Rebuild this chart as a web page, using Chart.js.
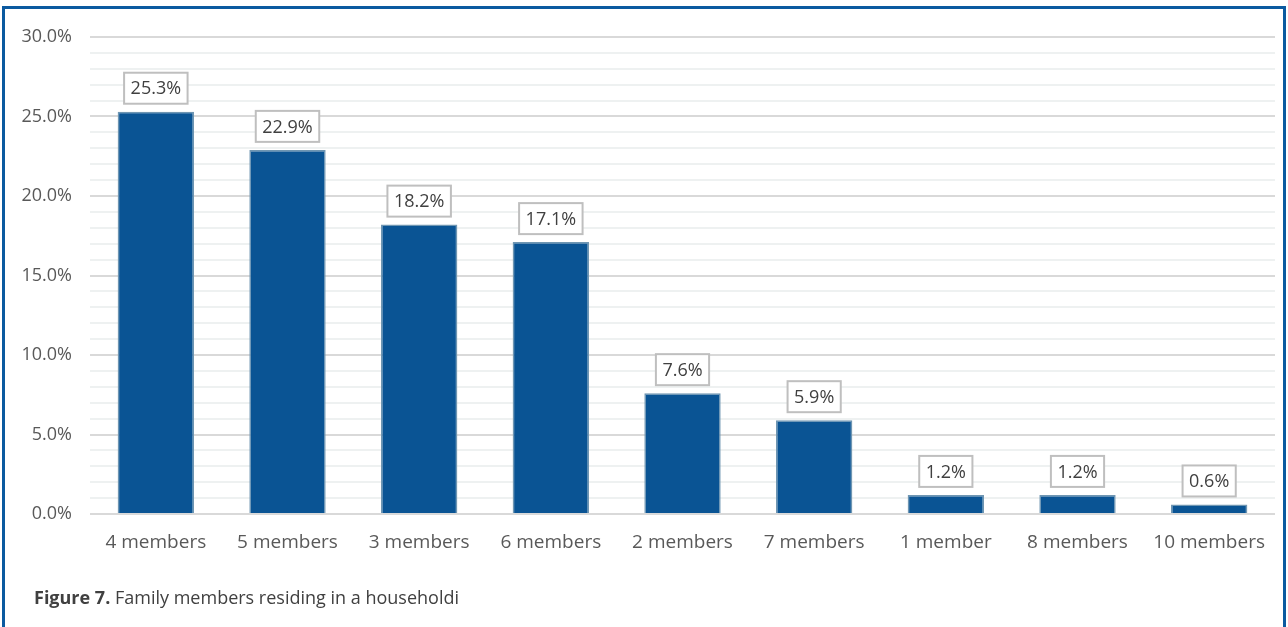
<!DOCTYPE html>
<html>
<head>
<meta charset="utf-8">
<script src="https://cdn.jsdelivr.net/npm/chart.js@4.4.1/dist/chart.umd.min.js"></script>
<style>
  html, body { margin: 0; padding: 0; background: #fff; overflow: hidden; }
  #frame {
    position: absolute; left: 2px; top: 6px;
    width: 1278px; height: 700px;
    border: 3px solid #0b5aa0;
  }
  #wrap { position: absolute; left: 0; top: 0; width: 1288px; height: 627px; }
  #caption {
    position: absolute; left: 34px; top: 585px;
    font-family: "Open Sans", sans-serif; font-size: 18px; color: #404040;
  }
  #caption b { font-weight: 700; }
</style>
</head>
<body>
<div id="frame"></div>
<div id="wrap"><canvas id="familyChart" width="1288" height="627"></canvas></div>
<div id="caption"><b>Figure 7.</b> Family members residing in a householdi</div>

<script>
// ===============================
// DATA
// ===============================
const categories = ["4 members", "5 members", "3 members", "6 members", "2 members", "7 members", "1 member", "8 members", "10 members"];
const shares = [25.3, 22.9, 18.2, 17.1, 7.6, 5.9, 1.2, 1.2, 0.6];
const yMax = 30;
const yMajorStep = 5;

const font = "'Open Sans', sans-serif";

// boxed value labels above each bar
const valueBoxes = {
  id: "valueBoxes",
  afterDatasetsDraw(chart) {
    const ctx = chart.ctx;
    const meta = chart.getDatasetMeta(0);
    ctx.save();
    ctx.font = "18px " + font;
    ctx.textAlign = "center";
    ctx.textBaseline = "middle";
    meta.data.forEach((bar, i) => {
      const text = shares[i].toFixed(1) + "%";
      const w = ctx.measureText(text).width + 13;
      const h = 31;
      const x = bar.x - w / 2;
      const y = bar.y - 8 - h;
      ctx.fillStyle = "#ffffff";
      ctx.fillRect(x, y, w, h);
      ctx.strokeStyle = "#bfbfbf";
      ctx.lineWidth = 2;
      ctx.strokeRect(x, y, w, h);
      ctx.fillStyle = "#404040";
      ctx.fillText(text, bar.x, y + h / 2 + 1);
    });
    ctx.restore();
  }
};

new Chart(document.getElementById("familyChart"), {
  type: "bar",
  data: {
    labels: categories,
    datasets: [{
      data: shares,
      backgroundColor: "#0a5494",
      borderColor: "#6f96b2",
      borderWidth: 1.5,
      barPercentage: 0.58,
      categoryPercentage: 1
    }]
  },
  options: {
    responsive: false,
    animation: false,
    devicePixelRatio: 1,
    layout: { padding: { left: 0, right: 13, top: 37, bottom: 73 } },
    plugins: {
      legend: { display: false },
      tooltip: { enabled: false }
    },
    scales: {
      x: {
        grid: { display: false, drawTicks: false },
        border: { display: false },
        ticks: { color: "#595959", font: { family: font, size: 19 }, padding: 17, maxRotation: 0 },
        afterFit(axis) { axis.height = 40; }
      },
      y: {
        min: 0,
        max: yMax,
        grid: {
          drawTicks: false,
          color: c => (c.tick.value % yMajorStep === 0 ? "#d9d9d9" : "#eef1f1"),
          lineWidth: 2
        },
        border: { display: false },
        ticks: {
          stepSize: 1,
          autoSkip: false,
          padding: 18,
          color: "#595959",
          font: { family: font, size: 18 },
          callback: v => (v % yMajorStep === 0 ? v.toFixed(1) + "%" : "")
        },
        afterFit(axis) { axis.width = 90; }
      }
    }
  },
  plugins: [valueBoxes]
});
</script>
</body>
</html>
